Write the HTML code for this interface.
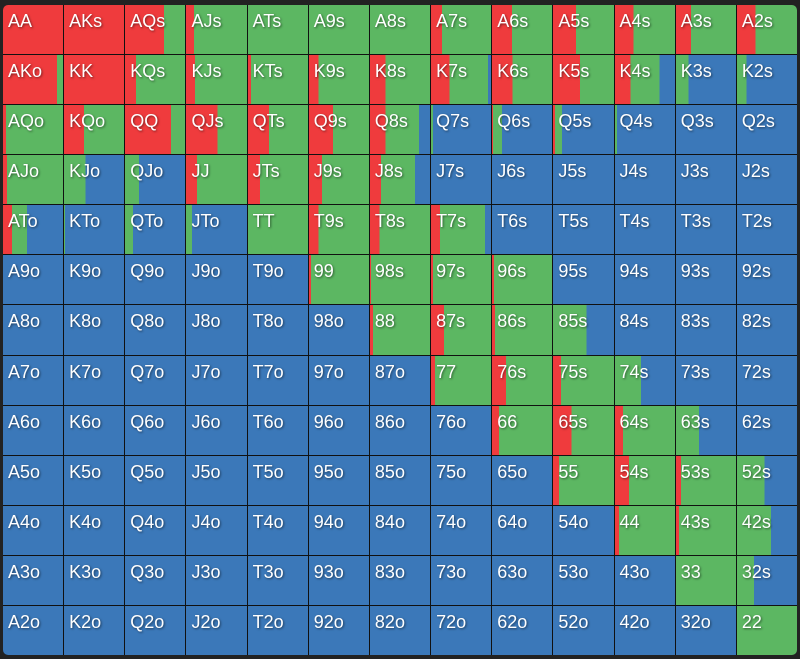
<!DOCTYPE html>
<html><head><meta charset="utf-8"><style>
html,body{margin:0;padding:0;background:#222;}
body{width:800px;height:659px;position:relative;overflow:hidden;}
.grid{position:absolute;left:3px;top:5px;width:794px;height:650px;display:grid;grid-template-columns:repeat(13,1fr);grid-template-rows:repeat(13,1fr);gap:1px;background:#111;border-radius:5px;overflow:hidden;}
.grid div{--a:0%;--c:100%;background:linear-gradient(90deg,#ef3b3d 0 var(--a),#5cb762 0 var(--c),#3b78b9 0);color:#fff;font:18px "Liberation Sans",sans-serif;padding:6px 0 0 5px;box-sizing:border-box;text-shadow:1px 1px 2px rgba(0,0,0,.5);white-space:nowrap;}
.r{--a:100%!important}.b{--c:0%!important}
</style></head><body><div class="grid">
<div class="r">AA</div><div class="r">AKs</div><div style="--a:65%">AQs</div><div style="--a:13%">AJs</div><div>ATs</div><div>A9s</div><div>A8s</div><div style="--a:18%">A7s</div><div style="--a:33%">A6s</div><div style="--a:38%">A5s</div><div style="--a:31%">A4s</div><div style="--a:25%">A3s</div><div style="--a:31%">A2s</div>
<div style="--a:90%">AKo</div><div class="r">KK</div><div style="--a:18%">KQs</div><div style="--a:15%">KJs</div><div style="--a:5%">KTs</div><div style="--a:16%">K9s</div><div style="--a:26%">K8s</div><div style="--a:31%;--c:95%">K7s</div><div style="--a:34%">K6s</div><div style="--a:44%">K5s</div><div style="--a:26%;--c:74%">K4s</div><div style="--c:21%">K3s</div><div style="--c:16%">K2s</div>
<div style="--a:5%">AQo</div><div style="--a:33%">KQo</div><div style="--a:77%">QQ</div><div style="--a:52%">QJs</div><div style="--a:35%">QTs</div><div style="--a:40%">Q9s</div><div style="--a:26%;--c:82%">Q8s</div><div style="--c:3%">Q7s</div><div style="--a:2%;--c:17%">Q6s</div><div style="--a:3%;--c:15%">Q5s</div><div style="--c:3%">Q4s</div><div class="b">Q3s</div><div class="b">Q2s</div>
<div style="--a:7%">AJo</div><div style="--c:36%">KJo</div><div style="--c:23%">QJo</div><div style="--a:18%">JJ</div><div style="--a:20%">JTs</div><div style="--a:22%">J9s</div><div style="--a:18%;--c:75%">J8s</div><div class="b">J7s</div><div class="b">J6s</div><div class="b">J5s</div><div class="b">J4s</div><div class="b">J3s</div><div class="b">J2s</div>
<div style="--a:15%;--c:40%">ATo</div><div style="--c:2%">KTo</div><div style="--c:13%">QTo</div><div style="--c:10%">JTo</div><div>TT</div><div style="--a:16%">T9s</div><div style="--a:16%">T8s</div><div style="--a:15%;--c:90%">T7s</div><div class="b">T6s</div><div class="b">T5s</div><div class="b">T4s</div><div class="b">T3s</div><div class="b">T2s</div>
<div class="b">A9o</div><div class="b">K9o</div><div class="b">Q9o</div><div class="b">J9o</div><div class="b">T9o</div><div style="--a:3%">99</div><div style="--a:2%">98s</div><div style="--a:3%">97s</div><div style="--a:3%">96s</div><div class="b">95s</div><div class="b">94s</div><div class="b">93s</div><div class="b">92s</div>
<div class="b">A8o</div><div class="b">K8o</div><div class="b">Q8o</div><div class="b">J8o</div><div class="b">T8o</div><div class="b">98o</div><div style="--a:5%">88</div><div style="--a:22%">87s</div><div style="--a:5%">86s</div><div style="--c:55%">85s</div><div class="b">84s</div><div class="b">83s</div><div class="b">82s</div>
<div class="b">A7o</div><div class="b">K7o</div><div class="b">Q7o</div><div class="b">J7o</div><div class="b">T7o</div><div class="b">97o</div><div class="b">87o</div><div style="--a:7%">77</div><div style="--a:23%">76s</div><div style="--a:13%">75s</div><div style="--c:43%">74s</div><div class="b">73s</div><div class="b">72s</div>
<div class="b">A6o</div><div class="b">K6o</div><div class="b">Q6o</div><div class="b">J6o</div><div class="b">T6o</div><div class="b">96o</div><div class="b">86o</div><div class="b">76o</div><div style="--a:12%">66</div><div style="--a:30%">65s</div><div style="--a:13%">64s</div><div style="--c:38%">63s</div><div class="b">62s</div>
<div class="b">A5o</div><div class="b">K5o</div><div class="b">Q5o</div><div class="b">J5o</div><div class="b">T5o</div><div class="b">95o</div><div class="b">85o</div><div class="b">75o</div><div class="b">65o</div><div style="--a:10%">55</div><div style="--a:23%">54s</div><div style="--a:8%">53s</div><div style="--c:46%">52s</div>
<div class="b">A4o</div><div class="b">K4o</div><div class="b">Q4o</div><div class="b">J4o</div><div class="b">T4o</div><div class="b">94o</div><div class="b">84o</div><div class="b">74o</div><div class="b">64o</div><div class="b">54o</div><div style="--a:7%">44</div><div style="--a:5%">43s</div><div style="--c:57%">42s</div>
<div class="b">A3o</div><div class="b">K3o</div><div class="b">Q3o</div><div class="b">J3o</div><div class="b">T3o</div><div class="b">93o</div><div class="b">83o</div><div class="b">73o</div><div class="b">63o</div><div class="b">53o</div><div class="b">43o</div><div>33</div><div style="--c:28%">32s</div>
<div class="b">A2o</div><div class="b">K2o</div><div class="b">Q2o</div><div class="b">J2o</div><div class="b">T2o</div><div class="b">92o</div><div class="b">82o</div><div class="b">72o</div><div class="b">62o</div><div class="b">52o</div><div class="b">42o</div><div class="b">32o</div><div>22</div>
</div></body></html>
